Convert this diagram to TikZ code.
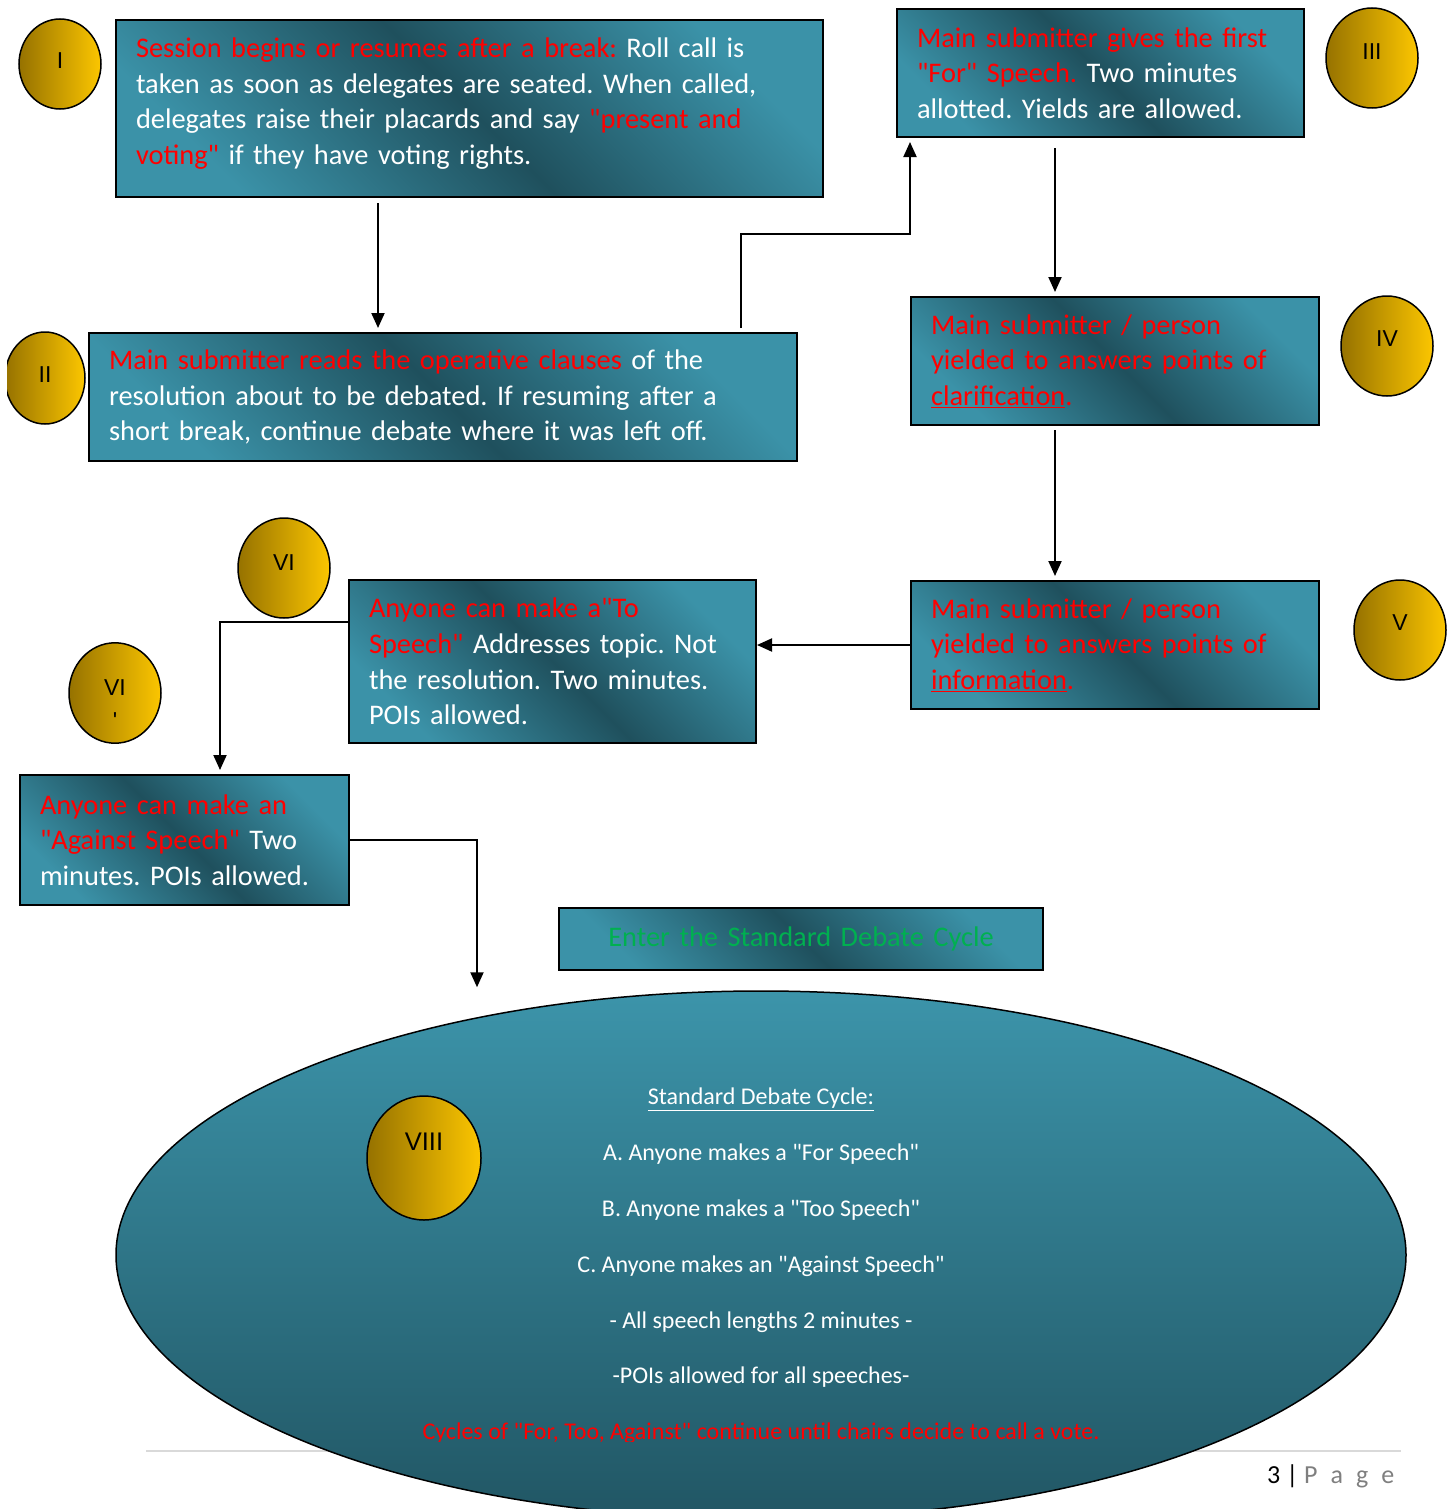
\documentclass[tikz,border=0pt]{standalone}
\usepackage{fontspec}
\setmainfont{Carlito}[Ligatures=TeXOff]
\newfontfamily\numfont{Liberation Sans}
\usetikzlibrary{shapes.geometric,arrows.meta}
\definecolor{boxlight}{RGB}{59,146,168}
\definecolor{boxdark}{RGB}{31,80,93}
\definecolor{cyclelight}{RGB}{60,148,170}
\definecolor{cycledark}{RGB}{33,86,100}
\definecolor{goldleft}{RGB}{150,114,0}
\definecolor{goldright}{RGB}{252,198,0}
\definecolor{hlred}{RGB}{255,0,0}
\definecolor{hlgreen}{RGB}{0,176,80}
\definecolor{rulegray}{RGB}{217,217,217}
\definecolor{pagegray}{RGB}{127,127,127}
\newcommand{\redtxt}[1]{\textcolor{hlred}{#1}}
\tikzset{>={Stealth[length=15pt,width=13pt,inset=0pt]}}
\frenchspacing

\begin{document}
\begin{tikzpicture}[x=1pt, y=-1pt,
    flowbox/.style={draw=black, line width=2pt, top color=boxlight, bottom color=boxlight,
      middle color=boxdark, shading angle=-45, text=white, align=left, inner xsep=20pt,
      anchor=north west, font=\fontsize{28.4}{35.7}\selectfont},
    badge/.style={ellipse, draw=black, line width=1.5pt, left color=goldleft, right color=goldright,
      text=black, inner sep=0pt, align=center, font=\numfont\fontsize{23}{27}\selectfont},
    link/.style={->, line width=2pt}]
    \useasboundingbox (0,0) rectangle (1451,1509);

    % boxes
    \node[flowbox, text width=667pt, minimum height=177pt] (boxI) at (115,19)
      {\redtxt{Session begins or resumes after a break:} Roll call is\\
       taken as soon as delegates are seated. When called,\\
       delegates raise their placards and say \redtxt{"present and\\ voting"} if they have voting rights.\par\vspace{10pt}};
    \node[flowbox, text width=367pt, minimum height=128pt] (boxIII) at (896,8)
      {\redtxt{Main submitter gives the first\\ "For" Speech.} Two minutes\\ allotted. Yields are allowed.};
    \node[flowbox, text width=668pt, minimum height=128pt] (boxII) at (88,332)
      {\redtxt{Main submitter reads the operative clauses} of the\\
       resolution about to be debated. If resuming after a\\
       short break, continue debate where it was left off.};
    \node[flowbox, text width=368pt, minimum height=128pt] (boxIV) at (910,296)
      {\redtxt{Main submitter / person\\ yielded to answers points of\\ \underline{clarification}.}};
    \node[flowbox, text width=368pt, minimum height=128pt] (boxV) at (910,580)
      {\redtxt{Main submitter / person\\ yielded to answers points of\\ \underline{information}.}};
    \node[flowbox, text width=367pt, minimum height=163pt] (boxVI) at (348,579)
      {\redtxt{Anyone can make a"To\\ Speech"} Addresses topic. Not\\ the resolution. Two minutes.\\ POIs allowed.};
    \node[flowbox, text width=289pt, minimum height=130pt] (boxVII) at (19,774)
      {\redtxt{Anyone can make an\\ "Against Speech"} Two\\ minutes. POIs allowed.};
    \node[flowbox, text width=444pt, minimum height=62pt, align=center, text=hlgreen] (enter) at (558,907)
      {Enter the Standard Debate Cycle};

    % badges
    \node[badge, minimum width=82pt, minimum height=90pt, text depth=6pt] (nI) at (60,64) {I};
    \begin{scope}
      \clip (7,0) rectangle (1451,1509);
      \node[badge, minimum width=80pt, minimum height=92pt, text depth=6pt] (nII) at (45,378) {II};
    \end{scope}
    \node[badge, minimum width=92pt, minimum height=100pt, text depth=13pt] (nIII) at (1372,58) {III};
    \node[badge, minimum width=92pt, minimum height=100pt, text depth=14pt] (nIV) at (1387,346) {IV};
    \node[badge, minimum width=92pt, minimum height=100pt, text depth=14pt] (nV) at (1400,630) {V};
    \node[badge, minimum width=92pt, minimum height=100pt, text depth=10pt] (nVI) at (284,568) {VI};
    \node[badge, minimum width=92pt, minimum height=100pt, text height=71pt] (nVIb) at (115,693) {VI\\[6pt]'};

    % connectors
    \draw[link] ([xshift=-91.5pt,yshift=-5pt]boxI.south) -- ([xshift=-91.5pt,yshift=4pt]boxI.south |- boxII.north);
    \draw[link] ([xshift=298pt,yshift=4pt]boxII.north) -- ++(0,-94) -| ([xshift=14pt,yshift=-4pt]boxIII.south west);
    \draw[link] ([xshift=-45.5pt,yshift=-10pt]boxIII.south) -- ([xshift=-45.5pt,yshift=4pt]boxIII.south |- boxIV.north);
    \draw[link] ([xshift=-60pt,yshift=-4pt]boxIV.south) -- ([xshift=-60pt,yshift=4pt]boxV.north);
    \draw[link] (boxV.west) -- (boxV.west -| boxVI.east);
    \draw[link] ([yshift=-43pt]boxVI.north west) -| ([xshift=35.5pt,yshift=4pt]boxVII.north);

    % footer rule sits under the cycle
    \draw[rulegray, line width=2pt] (146,1451) -- (1401,1451);
    \node[ellipse, draw=black, line width=1.5pt, top color=cyclelight, bottom color=cycledark,
      minimum width=1290pt, minimum height=528pt, inner sep=0pt] (cycle) at (761,1255) {};
    \draw[link] (boxVII.east) -| ([xshift=-284pt,yshift=3pt]cycle.north);
    \node[badge, minimum width=114pt, minimum height=124pt, text depth=32pt,
      font=\numfont\fontsize{25.5}{30}\selectfont] (nVIII) at (424,1158) {VIII};

    \begin{scope}
      \clip (0,0) rectangle (1451,1441);
      \node[anchor=north, align=center, text=white, inner sep=0pt,
        font=\fontsize{24}{55.8}\selectfont] (cycletext) at (761,1088)
        {\underline{Standard Debate Cycle:}\\
         A. Anyone makes a "For Speech"\\
         B. Anyone makes a "Too Speech"\\
         C. Anyone makes an "Against Speech"\\
         - All speech lengths 2 minutes -\\
         -POIs allowed for all speeches-\\
         \redtxt{Cycles of "For, Too, Against" continue until chairs decide to call a vote.}};
    \end{scope}

    \node[anchor=base west, inner sep=0pt, font=\fontsize{26}{30}\selectfont] (pagenum) at (1267,1483)
      {3 | \textcolor{pagegray}{P\hspace{0.5em}a\hspace{0.5em}g\hspace{0.5em}e}};
\end{tikzpicture}
\end{document}
